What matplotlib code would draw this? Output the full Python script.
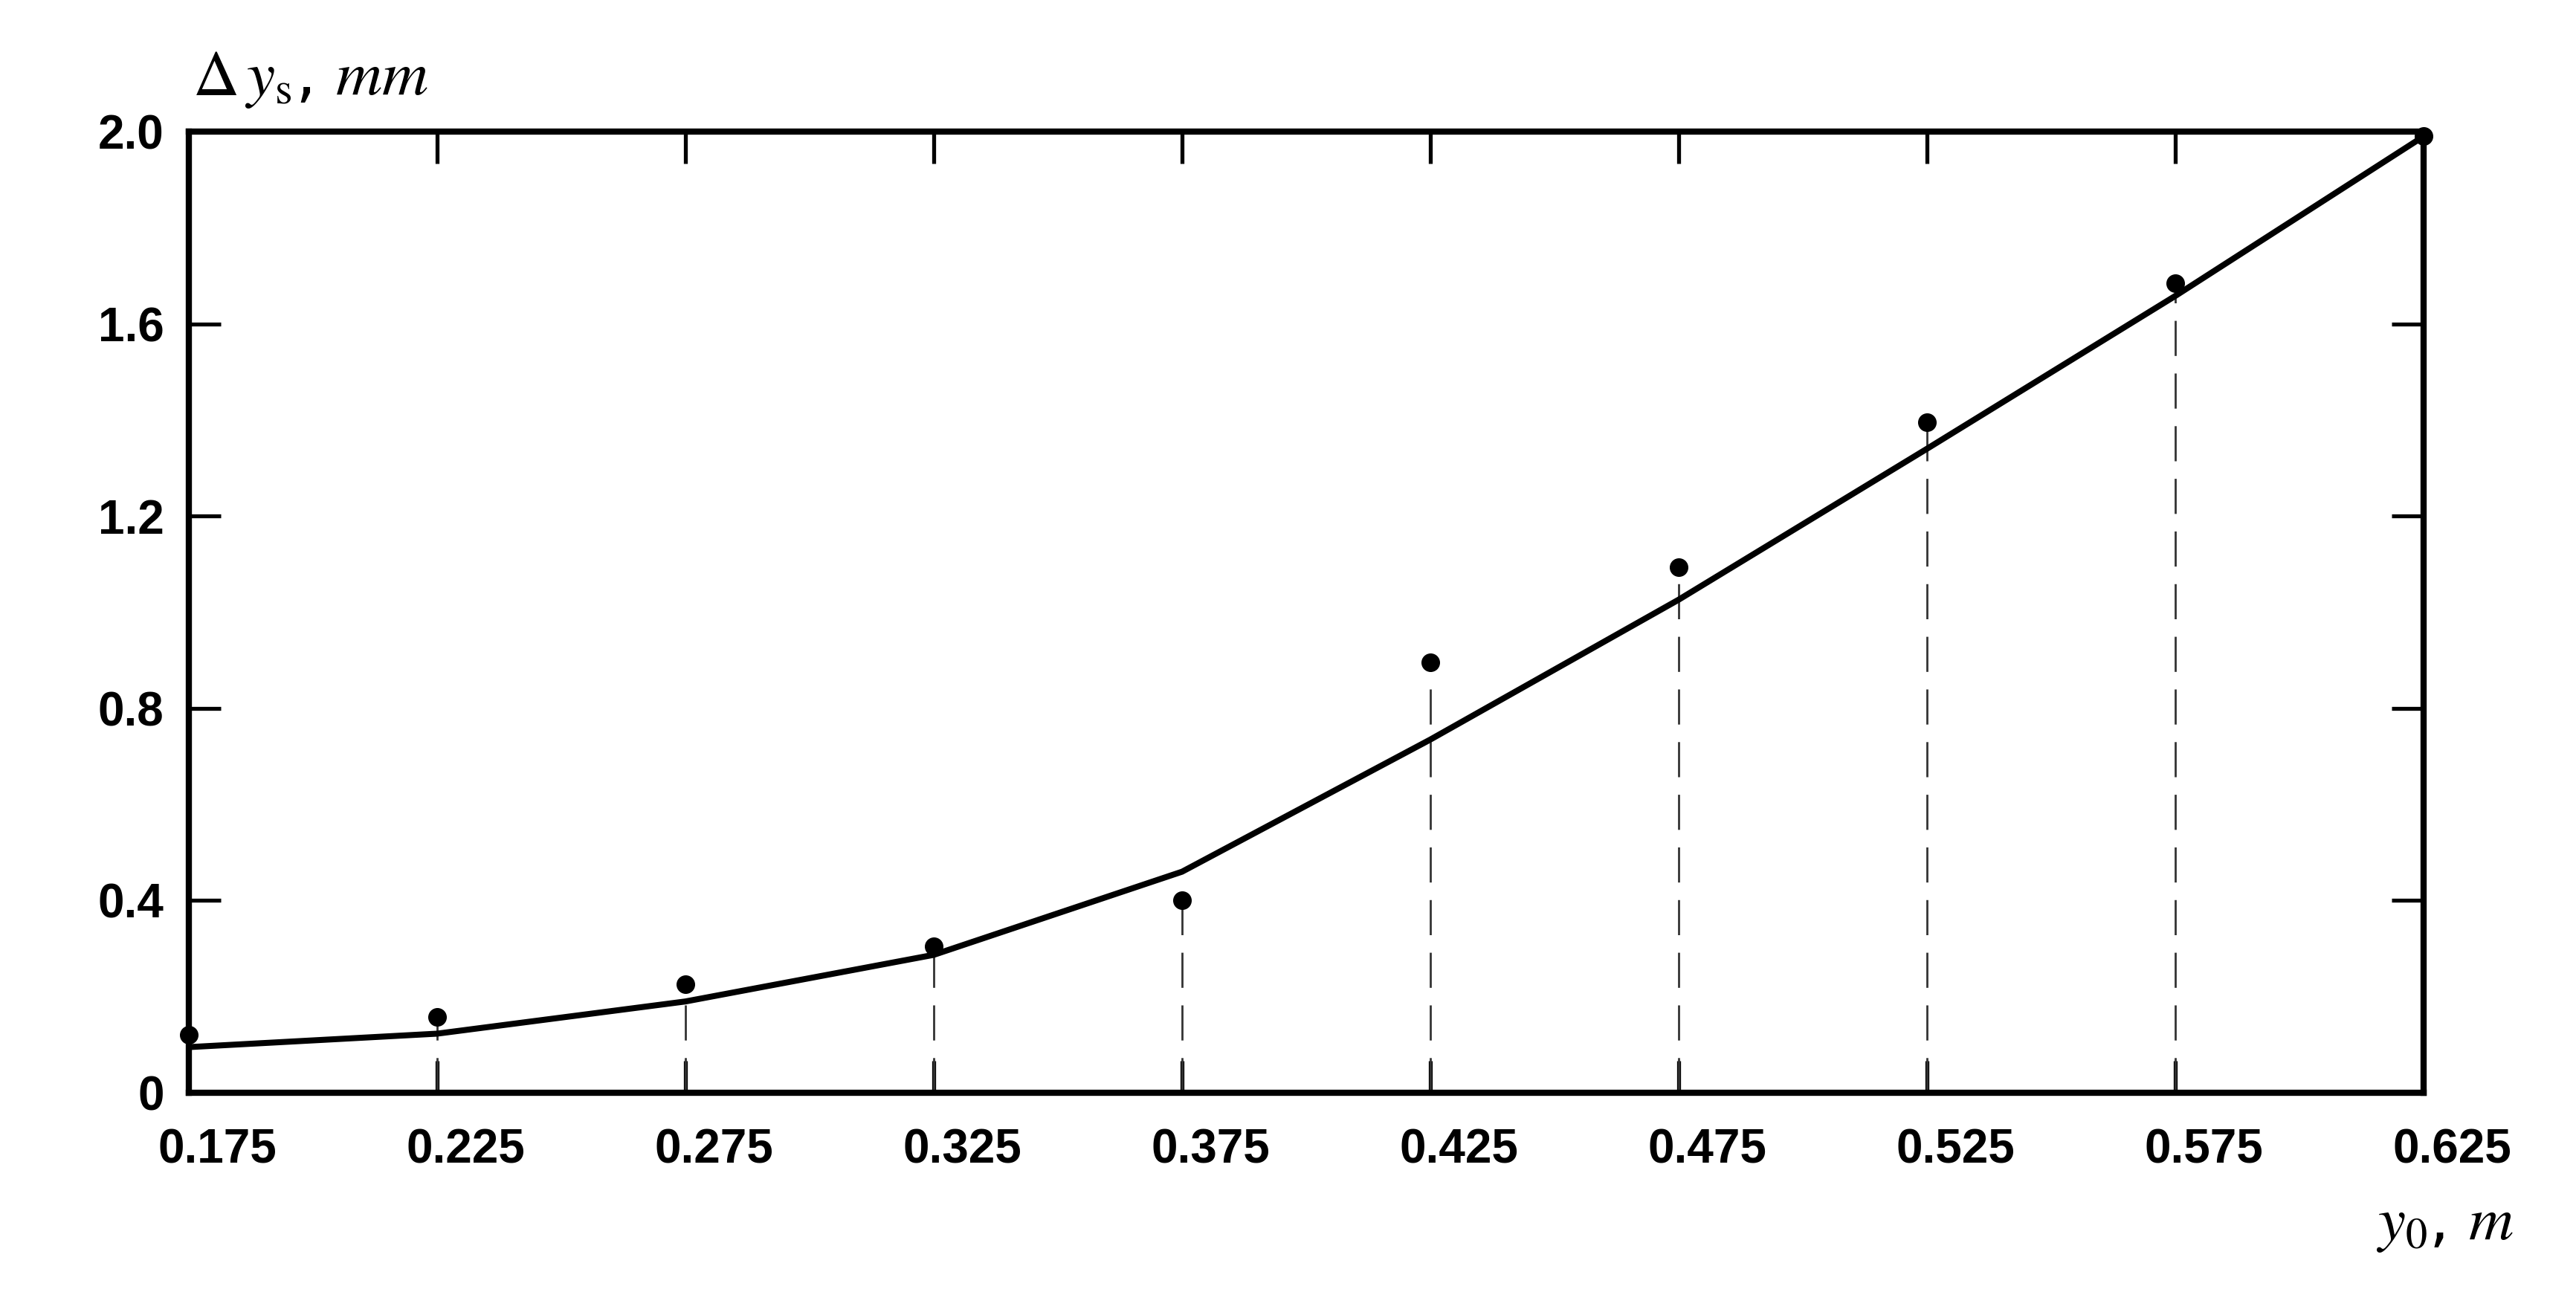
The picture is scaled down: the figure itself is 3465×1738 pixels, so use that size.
import matplotlib
matplotlib.use("Agg")
import matplotlib.pyplot as plt
import matplotlib.transforms as mtransforms

# ---- data ----
y0_m = [0.175, 0.225, 0.275, 0.325, 0.375, 0.425, 0.475, 0.525, 0.575, 0.625]
dys_measured = [0.12, 0.157, 0.226, 0.304, 0.40, 0.896, 1.094, 1.395, 1.685, 1.99]
dys_curve = [0.095, 0.123, 0.19, 0.287, 0.46, 0.735, 1.026, 1.34, 1.658, 1.99]
x_ticks = [0.175, 0.225, 0.275, 0.325, 0.375, 0.425, 0.475, 0.525, 0.575, 0.625]
x_ticklabels = ["0.175", "0.225", "0.275", "0.325", "0.375", "0.425", "0.475", "0.525", "0.575", "0.625"]
y_ticks = [0, 0.4, 0.8, 1.2, 1.6, 2.0]
y_ticklabels = ["0", "0.4", "0.8", "1.2", "1.6", "2.0"]

plt.rcParams['mathtext.fontset'] = 'stix'
plt.rcParams['lines.scale_dashes'] = False

DPI = 100
fig = plt.figure(figsize=(34.65, 17.38), dpi=DPI)
W, H = 3465, 1738
L, R, T, B = 254, 3260, 177, 1470
ax = fig.add_axes([L / W, 1 - B / H, (R - L) / W, (B - T) / H])

# dashed verticals from 0 to each measured point
for xv, yv in zip(y0_m, dys_measured):
    ax.plot([xv, xv], [0, yv], color='#333333', lw=2.0, linestyle=(0, (34, 17)),
            zorder=2, clip_on=False)

ax.plot(y0_m, dys_curve, color='black', lw=5.8, zorder=3, clip_on=False,
        solid_joinstyle='round', solid_capstyle='round')
ax.plot(y0_m, dys_measured, 'o', color='black', markersize=17, zorder=4, clip_on=False)

ax.set_xlim(0.175, 0.625)
ax.set_ylim(0, 2.0)

for s in ax.spines.values():
    s.set_linewidth(6)
    s.set_color('black')

ax.set_xticks(x_ticks)
ax.set_xticklabels(x_ticklabels)
ax.set_yticks(y_ticks)
ax.set_yticklabels(y_ticklabels)
ax.tick_params(axis='both', direction='in', length=31, width=3.8, top=True, right=True,
               labelsize=46, colors='black')
ax.tick_params(axis='x', pad=34)
ax.tick_params(axis='y', pad=24)
for lab in ax.get_xticklabels() + ax.get_yticklabels():
    lab.set_fontfamily('Liberation Sans')
    lab.set_fontweight('bold')

offset = mtransforms.ScaledTranslation(38 / DPI, 0, fig.dpi_scale_trans)
for lab in ax.get_xticklabels():
    lab.set_transform(lab.get_transform() + offset)

fig.text(259 / W, 1 - 128 / H, r'$\Delta\,y_{\mathrm{s}}$, $mm$', fontsize=62,
         ha='left', va='baseline', color='black')
fig.text(3382 / W, 1 - 1668 / H, r'$y_{0}$, $m$', fontsize=60,
         ha='right', va='baseline', color='black')

fig.savefig('out.png', dpi=DPI, facecolor='white')
